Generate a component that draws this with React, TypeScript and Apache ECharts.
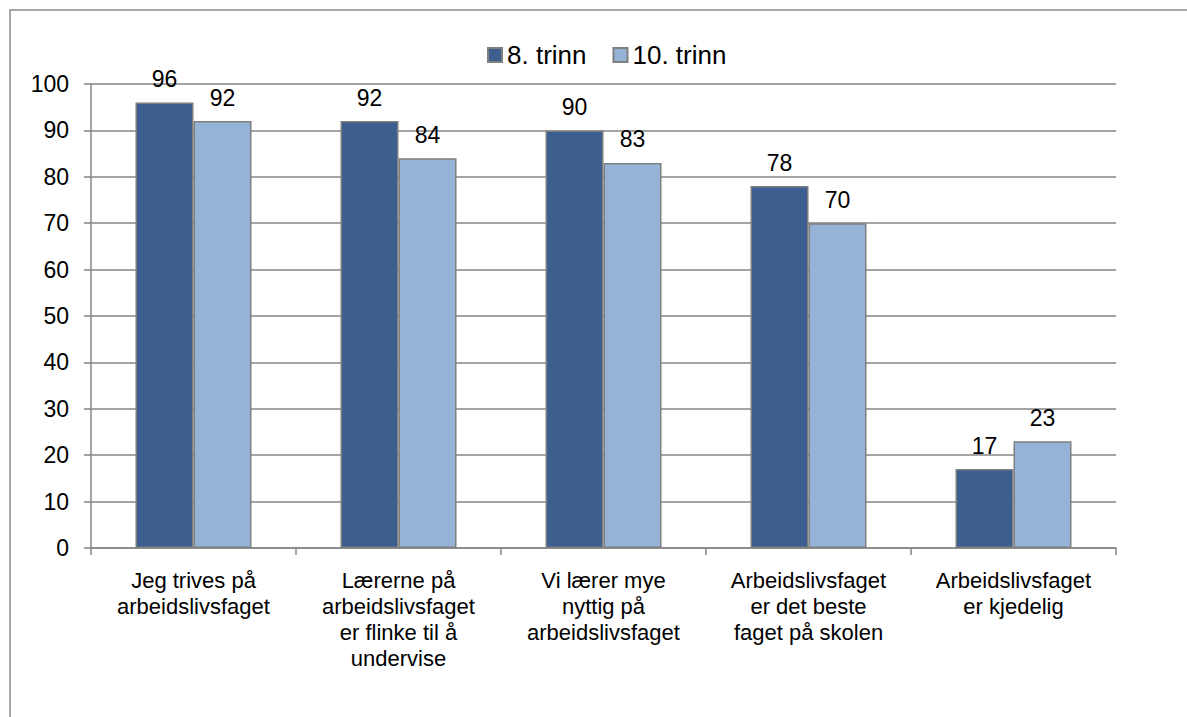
import React, { useEffect, useRef } from "react";
import * as echarts from "echarts";

const categories = [
  "Jeg trives på\narbeidslivsfaget",
  "Lærerne på\narbeidslivsfaget\ner flinke til å\nundervise",
  "Vi lærer mye\nnyttig på\narbeidslivsfaget",
  "Arbeidslivsfaget\ner det beste\nfaget på skolen",
  "Arbeidslivsfaget\ner kjedelig",
];
const seriesNames = ["8. trinn", "10. trinn"];
const trinn8 = [96, 92, 90, 78, 17];
const trinn10 = [92, 84, 83, 70, 23];
const yTicks = { min: 0, max: 100, interval: 10 };

const FONT = "'Liberation Sans', Arial, sans-serif";

export default function App() {
  const ref = useRef<HTMLDivElement>(null);
  useEffect(() => {
    document.body.style.margin = "0";
    const chart = echarts.init(ref.current!, null, { renderer: "svg" });
    const label = {
      show: true,
      position: "top",
      distance: 12,
      color: "#000",
      fontSize: 23,
      fontFamily: FONT,
    };
    chart.setOption({
      animation: false,
      backgroundColor: "#fff",
      textStyle: { fontFamily: FONT },
      graphic: [
        {
          type: "rect",
          shape: { x: 10, y: 10, width: 1300, height: 900 },
          style: { fill: "none", stroke: "#8c8c8c", lineWidth: 1.5 },
          silent: true,
        },
      ],
      legend: {
        top: 37,
        left: 482,
        itemWidth: 14,
        itemHeight: 14,
        itemGap: 26,
        icon: "rect",
        textStyle: { fontSize: 26, color: "#000", fontFamily: FONT },
        data: seriesNames,
      },
      grid: { left: 91, right: 71, top: 84, bottom: 169, containLabel: false },
      xAxis: {
        type: "category",
        data: categories,
        axisLine: { show: true, lineStyle: { color: "#868686", width: 1.5 } },
        axisTick: { show: true, length: 7, alignWithLabel: false, lineStyle: { color: "#868686", width: 1.5 } },
        axisLabel: {
          interval: 0,
          margin: 19,
          fontSize: 22,
          lineHeight: 26,
          color: "#000",
          fontFamily: FONT,
          align: "center",
        },
      },
      yAxis: {
        type: "value",
        min: yTicks.min,
        max: yTicks.max,
        interval: yTicks.interval,
        axisLine: { show: true, lineStyle: { color: "#868686", width: 1.5 } },
        axisTick: { show: true, length: 7, lineStyle: { color: "#868686", width: 1.5 } },
        splitLine: { show: true, lineStyle: { color: "#868686", width: 1.5 } },
        axisLabel: { margin: 22, fontSize: 23, color: "#000", fontFamily: FONT },
      },
      series: [
        {
          name: seriesNames[0],
          type: "bar",
          data: trinn8,
          barWidth: 58,
          barGap: "0%",
          itemStyle: { color: "#3d5f8f", borderColor: "#7f7f7f", borderWidth: 1.5 },
          label,
        },
        {
          name: seriesNames[1],
          type: "bar",
          data: trinn10,
          barWidth: 58,
          barGap: "0%",
          itemStyle: { color: "#95b3d7", borderColor: "#7f7f7f", borderWidth: 1.5 },
          label,
        },
      ],
    });
    return () => chart.dispose();
  }, []);
  return <div ref={ref} style={{ width: 1187, height: 717 }} />;
}
